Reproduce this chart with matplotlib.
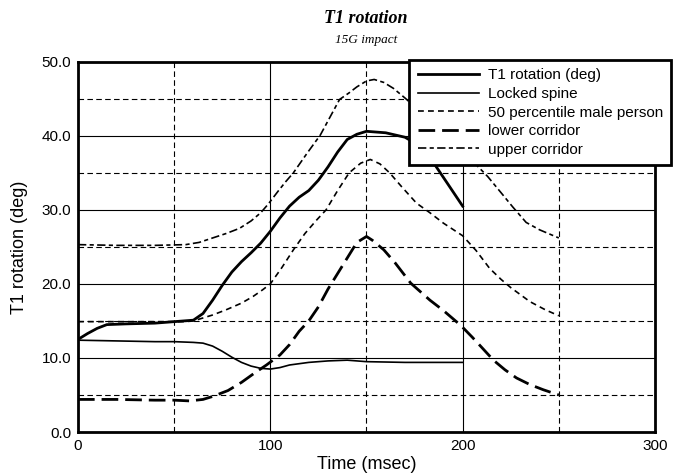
import matplotlib
matplotlib.use("Agg")
import matplotlib.pyplot as plt
from matplotlib.ticker import MultipleLocator

plt.rcParams['font.family'] = ['Liberation Sans', 'DejaVu Sans']

# ---- data ----
t1_time = [0, 5, 10, 15, 25, 40, 50, 60, 65, 70, 75, 80, 85, 90, 95, 100, 105, 110, 115, 120,
           125, 130, 135, 140, 145, 150, 160, 170, 178, 185, 192, 200]
t1_val = [12.5, 13.3, 14.0, 14.5, 14.6, 14.7, 14.9, 15.1, 16.0, 17.8, 19.8, 21.6, 23.0, 24.2, 25.5,
          27.1, 28.9, 30.5, 31.7, 32.6, 34.0, 35.8, 37.8, 39.5, 40.2, 40.6, 40.4, 39.8, 38.6, 36.3,
          33.6, 30.5]

locked_time = [0, 20, 40, 50, 60, 65, 70, 75, 80, 85, 90, 95, 100, 105, 110, 120, 130, 140, 150,
               170, 200]
locked_val = [12.4, 12.3, 12.2, 12.2, 12.1, 12.0, 11.6, 10.9, 10.1, 9.4, 8.9, 8.6, 8.5, 8.7, 9.05,
              9.4, 9.6, 9.7, 9.5, 9.4, 9.4]

p50_time = [0, 30, 55, 60, 65, 70, 77, 85, 91, 96, 100, 106, 112, 118, 124, 129, 135, 141, 147,
            152, 157, 162, 168, 176, 183, 190, 200, 207, 214, 220, 225, 235, 243, 250]
p50_val = [14.9, 14.9, 14.9, 15.0, 15.4, 15.8, 16.5, 17.4, 18.3, 19.2, 20.0, 22.2, 24.6, 26.8,
           28.6, 30.0, 32.6, 35.0, 36.3, 36.8, 36.2, 35.0, 33.2, 30.9, 29.6, 28.2, 26.5, 24.5,
           22.1, 20.6, 19.5, 17.6, 16.5, 15.7]

lower_time = [0, 20, 40, 50, 58, 65, 70, 78, 85, 92, 98, 105, 110, 115, 120, 125, 130, 135, 140,
              145, 150, 153, 159, 165, 173, 183, 190, 199, 205, 210, 216, 222, 228, 235, 242, 250]
lower_val = [4.4, 4.4, 4.3, 4.3, 4.2, 4.4, 4.8, 5.6, 6.7, 8.0, 9.05, 10.4, 11.8, 13.6, 15.0, 16.9,
             19.3, 21.4, 23.5, 25.6, 26.4, 25.9, 24.6, 22.8, 20.1, 17.8, 16.4, 14.4, 12.8, 11.4,
             9.7, 8.4, 7.3, 6.4, 5.7, 5.0]

upper_time = [0, 20, 40, 56, 63, 70, 77, 84, 90, 95, 99, 104, 108, 112, 119, 126, 131, 136, 141,
              145, 150, 154, 159, 164, 170, 180, 190, 200, 207, 213, 220, 226, 233, 240, 250]
upper_val = [25.3, 25.2, 25.2, 25.3, 25.6, 26.2, 26.8, 27.5, 28.5, 29.6, 30.8, 32.5, 33.8, 35.0,
             37.6, 40.1, 42.5, 44.9, 45.8, 46.6, 47.4, 47.6, 47.2, 46.4, 45.1, 42.8, 40.4, 38.0,
             36.1, 34.5, 32.3, 30.4, 28.3, 27.3, 26.2]

labels = ["T1 rotation (deg)", "Locked spine", "50 percentile male person",
          "lower corridor", "upper corridor"]
x_ticks = [0, 100, 200, 300]
y_ticks = [0, 10, 20, 30, 40, 50]
y_ticklabels = ["0.0", "10.0", "20.0", "30.0", "40.0", "50.0"]

# ---- figure ----
fig = plt.figure(figsize=(6.74, 4.76), dpi=100)
ax = fig.add_axes([0.1157, 0.0924, 0.9718 - 0.1157, 0.8704 - 0.0924])

ax.set_xlim(0, 300)
ax.set_ylim(0, 50)
ax.set_xticks(x_ticks)
ax.set_yticks(y_ticks)
ax.set_yticklabels(y_ticklabels)
ax.xaxis.set_minor_locator(MultipleLocator(50))
ax.yaxis.set_minor_locator(MultipleLocator(5))
ax.grid(True, which='major', color='black', linestyle='-', linewidth=0.8)
ax.grid(True, which='minor', color='black', linestyle=(0, (5, 3)), linewidth=0.8)
ax.tick_params(which='both', length=0, labelsize=11, pad=5)
ax.set_axisbelow(True)
for s in ax.spines.values():
    s.set_linewidth(2.0)

l1, = ax.plot(t1_time, t1_val, color='black', linewidth=2.0, linestyle='-')
l2, = ax.plot(locked_time, locked_val, color='black', linewidth=1.2, linestyle='-')
l3, = ax.plot(p50_time, p50_val, color='black', linewidth=1.2, linestyle=(0, (3.5, 2.5)))
l4, = ax.plot(lower_time, lower_val, color='black', linewidth=2.0, linestyle=(0, (6, 2.5)))
l5, = ax.plot(upper_time, upper_val, color='black', linewidth=1.2, linestyle=(0, (5, 2, 2.5, 2)))

ax.set_xlabel("Time (msec)", fontsize=13, labelpad=2)
ax.set_ylabel("T1 rotation (deg)", fontsize=13, labelpad=10)

fig.text(0.543, 0.962, "T1 rotation", ha='center', va='center', fontsize=13,
         family='Liberation Serif', fontweight='bold', fontstyle='italic')
fig.text(0.543, 0.915, "15G impact", ha='center', va='center', fontsize=9.5,
         family='Liberation Serif', fontstyle='italic')

leg = fig.legend([l1, l2, l3, l4, l5], labels, loc='upper left',
                 bbox_to_anchor=(0.607, 0.874), bbox_transform=fig.transFigure,
                 borderaxespad=0, fontsize=11, frameon=True, fancybox=False,
                 handlelength=4.0, handletextpad=0.6, labelspacing=0.3,
                 borderpad=0.55, edgecolor='black', framealpha=1)
leg.get_frame().set_linewidth(2.0)

fig.savefig("out.png", dpi=100)
